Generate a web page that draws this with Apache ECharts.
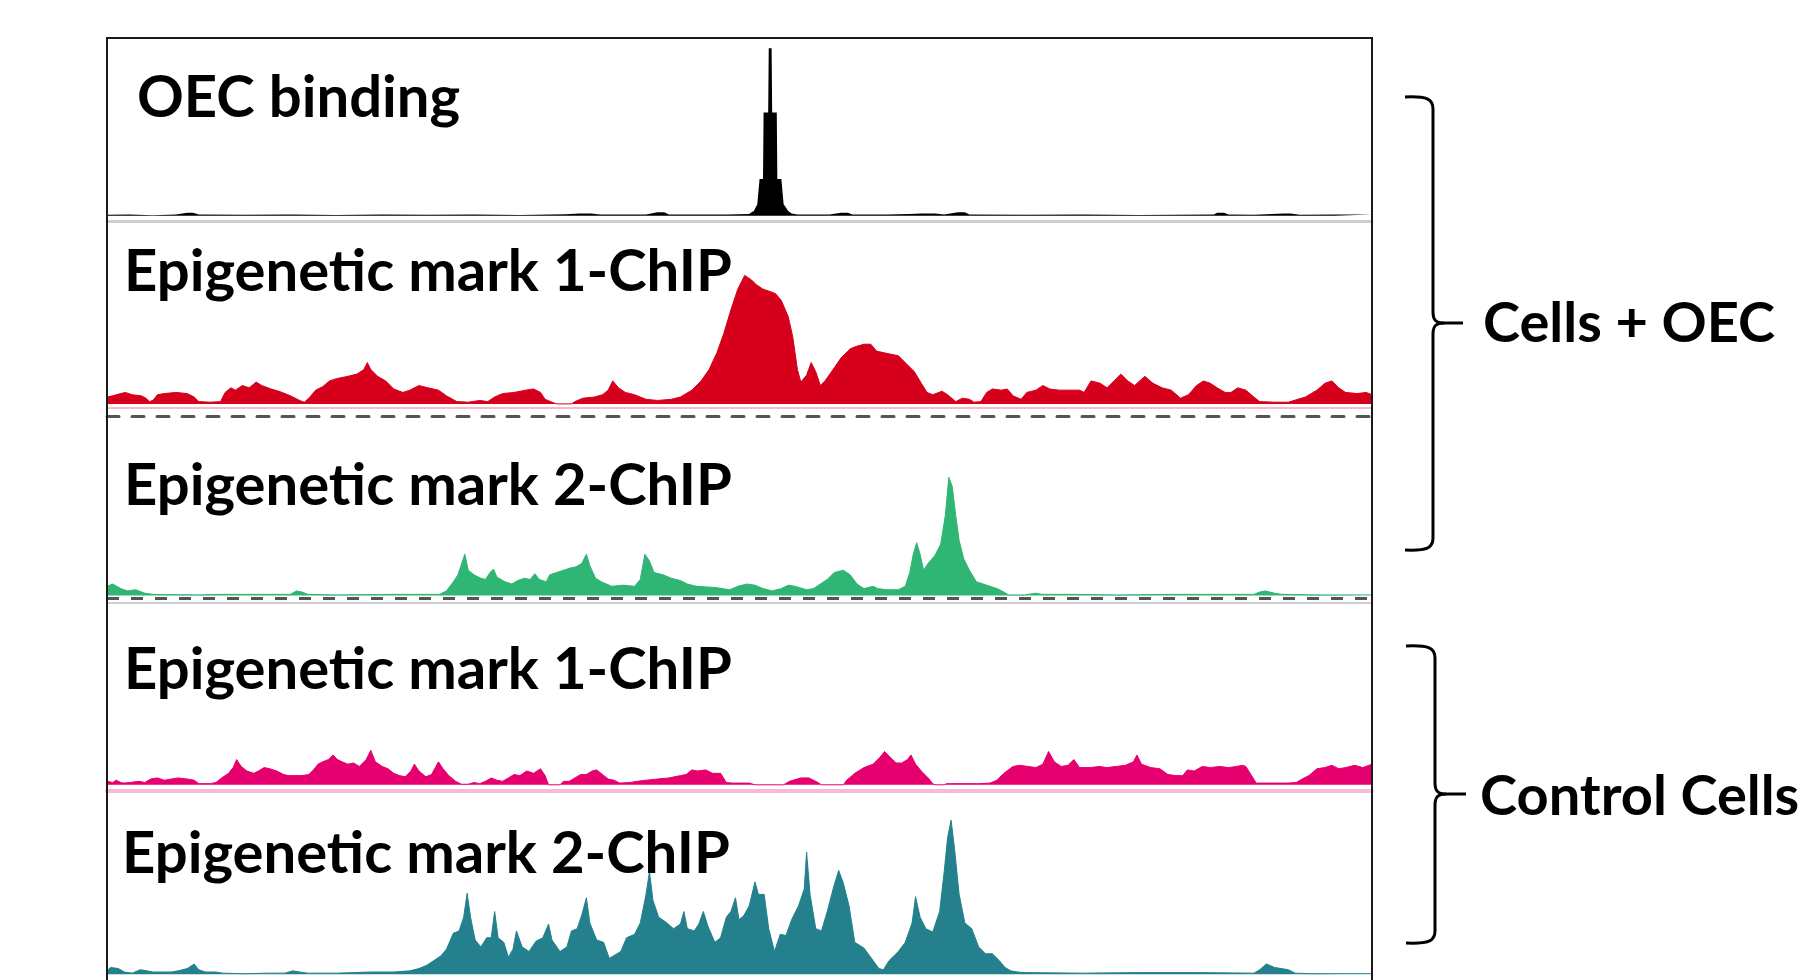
<!DOCTYPE html>
<html><head><meta charset="utf-8">
<script src="https://cdn.jsdelivr.net/npm/echarts@6/dist/echarts.min.js"></script>
<style>html,body{margin:0;padding:0;background:#fff}#c{width:1799px;height:980px}</style>
</head><body><div id="c"></div><script>
// ---- data (position along locus, signal) ----
const trackNames = ['OEC binding', 'Epigenetic mark 1-ChIP', 'Epigenetic mark 2-ChIP', 'Epigenetic mark 1-ChIP', 'Epigenetic mark 2-ChIP'];
const groupLabels = ['Cells + OEC', 'Control Cells'];
const locusRange = [0, 1103];

const oecSignal = [[0,0.8],[20,1],[40,0.5],[60,1],[70,2.5],[75,2.5],[80,1],[120,0.8],[160,1],[200,0.6],[240,1],[280,0.8],[320,1],[360,0.7],[400,1.2],[412,2],[422,2],[430,1],[470,1],[480,3],[486,3],[490,1],[540,1],[560,1.5],[562,3],[564,4],[567,10],[569,32],[572,32],[572.5,90],[576.5,90],[577,146],[579.5,146],[580,90],[584,90],[584.5,32],[588,32],[590,10],[594,4],[597,2],[602,1],[630,1],[640,2.5],[646,2.5],[650,1],[680,1],[700,1.5],[710,2],[722,2],[730,1],[742,3],[748,3],[752,1],[800,0.8],[850,1],[900,0.7],[965,1],[968,2.5],[974,2.5],[978,1],[1000,0.8],[1026,2],[1032,2],[1040,0.8],[1070,1],[1103,1]];

const mark1Oec = [[0,6],[5,7],[12,9],[16,10],[22,8],[30,7],[34,5],[37,2],[40,3],[44,8],[50,9],[60,10],[70,9],[76,6],[80,2],[90,1.5],[99,2],[103,10],[108,14],[112,12],[118,16],[124,14],[130,19],[135,16],[143,13],[150,11],[160,7],[168,3],[172,1.5],[176,5],[182,12],[188,15],[194,20],[200,22],[210,24],[218,26],[224,30],[227,36],[230,30],[236,24],[243,20],[250,13],[258,10],[264,12],[272,16],[280,14],[289,12],[296,7],[305,2],[315,1.5],[325,3],[332,2],[338,6],[345,9],[355,10],[365,12],[372,13],[378,10],[382,4],[388,1.5],[392,0],[405,0],[408,2],[415,5],[425,6],[432,8],[437,12],[441,20],[446,14],[452,10],[460,8],[470,4],[480,3],[492,4],[500,6],[510,12],[518,20],[525,30],[532,45],[538,62],[544,82],[550,100],[556,112],[562,108],[566,104],[572,100],[578,98],[583,96],[588,90],[594,76],[598,58],[602,30],[605,19],[610,25],[614,36],[618,28],[622,16],[626,20],[631,27],[640,40],[648,48],[653,50],[660,52],[666,52],[671,46],[680,44],[690,42],[697,35],[704,28],[710,18],[715,10],[720,8],[728,11],[733,8],[740,2],[746,5],[752,4],[756,1.5],[762,2],[767,10],[772,13],[780,12],[785,13],[790,7],[797,4],[802,10],[810,12],[816,16],[822,13],[830,12],[840,12],[848,12],[852,10],[858,20],[866,18],[872,14],[880,22],[884,26],[890,20],[896,16],[905,24],[912,18],[920,14],[928,12],[936,5],[943,8],[950,16],[956,20],[962,18],[968,14],[975,10],[980,10],[986,14],[993,12],[1000,6],[1005,2],[1018,1.5],[1030,1.5],[1035,3],[1045,6],[1055,12],[1062,18],[1068,20],[1074,14],[1080,10],[1090,9],[1098,10],[1103,8]];

const mark2Oec = [[0,8],[5,10],[12,6],[18,4],[25,5],[33,2],[40,1],[80,0.5],[100,1],[160,1],[165,4],[170,3],[175,1],[200,0.5],[250,1],[290,1],[296,4],[302,12],[306,18],[310,30],[312,36],[315,22],[320,18],[326,15],[330,14],[334,20],[337,23],[340,16],[347,12],[353,10],[358,13],[364,15],[369,14],[373,19],[377,14],[383,12],[386,18],[392,20],[398,22],[404,24],[409,25],[414,28],[418,36],[421,26],[426,15],[431,12],[440,8],[450,9],[460,8],[465,14],[469,36],[473,30],[477,20],[485,18],[492,15],[500,13],[506,10],[514,8],[530,7],[543,5],[550,8],[558,10],[565,9],[572,6],[580,4],[588,6],[594,9],[600,8],[610,5],[616,6],[622,10],[628,14],[634,20],[642,22],[648,18],[654,10],[660,6],[668,8],[672,6],[680,5],[690,5],[696,8],[700,20],[703,36],[706,46],[709,36],[712,22],[716,28],[722,35],[727,45],[731,70],[734,103],[737,95],[740,70],[743,48],[747,32],[752,22],[758,12],[764,10],[770,8],[776,6],[782,3],[786,0.5],[800,0.5],[810,2],[815,1],[840,1],[880,0.5],[930,1],[1000,1],[1005,3],[1010,4],[1014,3],[1018,2],[1024,1],[1060,0.5],[1103,0.5]];

const mark1Ctrl = [[0,3],[5,2],[8,4],[12,2],[15,1.5],[20,2],[28,3],[33,2],[38,5],[44,6],[50,4],[56,5],[62,6],[70,5],[76,4],[80,1],[90,1],[95,2],[100,6],[106,10],[110,15],[113,22],[117,16],[122,12],[128,10],[132,12],[137,15],[142,14],[148,12],[154,9],[158,8],[164,8],[170,8],[176,9],[180,13],[184,18],[188,20],[193,22],[197,26],[201,22],[205,20],[210,18],[215,19],[220,16],[226,22],[230,30],[234,20],[240,16],[245,14],[250,10],[255,8],[260,7],[265,12],[268,18],[272,12],[278,7],[283,9],[289,20],[293,14],[298,8],[304,3],[309,0.5],[315,0.5],[320,2],[325,1],[330,3],[335,6],[340,4],[345,3],[350,6],[355,9],[360,8],[366,12],[372,10],[378,14],[382,8],[385,0],[395,0],[398,3],[403,3],[408,6],[413,9],[418,9],[423,12],[427,13],[432,9],[437,5],[442,4],[447,1.5],[456,2],[462,3],[470,4],[480,5],[490,6],[500,8],[505,9],[510,13],[515,12],[522,13],[528,10],[535,10],[540,2],[545,1.5],[560,1.5],[565,0],[590,0],[595,3],[605,6],[612,6],[618,3],[623,0],[642,0],[645,4],[652,10],[660,15],[668,18],[674,24],[678,29],[683,24],[688,19],[693,19],[698,22],[701,26],[705,18],[710,12],[716,6],[720,1],[722,0],[730,0],[732,1],[760,1],[770,1.5],[776,4],[782,10],[790,16],[796,17],[803,16],[810,15],[816,18],[821,29],[826,20],[832,16],[838,17],[843,22],[848,15],[858,15],[865,16],[872,15],[880,16],[888,17],[895,20],[898,26],[902,18],[910,15],[918,14],[925,9],[932,8],[938,8],[942,13],[948,12],[955,16],[962,15],[970,16],[978,15],[985,16],[990,17],[993,16],[998,8],[1002,1.5],[1030,1.5],[1037,2],[1042,5],[1048,8],[1055,14],[1062,15],[1068,17],[1074,14],[1080,15],[1088,17],[1095,15],[1103,18]];

const mark2Ctrl = [[0,3],[3,6],[10,5],[15,2],[22,1],[29,4],[35,3],[40,2],[48,2],[56,2],[62,3],[70,5],[76,9],[80,4],[86,2],[95,2],[101,1],[120,0.5],[140,1],[155,1],[162,3],[168,2],[175,1],[200,1],[230,2],[250,2],[264,3],[272,5],[279,8],[285,12],[291,16],[296,22],[302,36],[307,38],[311,50],[314,71],[317,50],[321,30],[326,24],[331,32],[335,32],[338,55],[341,32],[346,28],[350,15],[354,22],[357,38],[362,24],[368,20],[374,29],[380,32],[385,44],[388,30],[395,20],[401,24],[405,38],[410,40],[414,52],[418,67],[421,45],[427,30],[433,28],[438,14],[443,17],[448,20],[453,32],[460,35],[465,45],[470,70],[473,90],[476,65],[481,50],[487,46],[494,40],[500,44],[503,55],[506,40],[512,38],[516,44],[520,55],[524,42],[530,28],[535,32],[540,50],[544,55],[548,67],[551,48],[555,51],[560,60],[565,81],[568,70],[573,70],[577,40],[582,20],[587,35],[592,34],[597,48],[603,60],[608,75],[610,107],[613,70],[618,40],[623,38],[628,55],[634,78],[638,91],[642,80],[647,60],[652,28],[660,23],[668,12],[673,5],[677,4],[682,12],[690,20],[696,28],[702,45],[705,68],[709,50],[714,40],[720,37],[726,55],[730,90],[733,120],[736,135],[739,110],[743,70],[748,45],[754,40],[760,24],[766,18],[772,18],[778,12],[783,6],[788,3],[794,2],[800,1.5],[850,1],[900,1.5],[950,1.5],[1000,1],[1005,4],[1011,9],[1018,6],[1024,5],[1030,4],[1036,1],[1050,0.5],[1103,0.5]];

// ---- layout / styles ----
const S = 980 / 854;
const plotLeft = 107, plotWidth = 1265;
const tracks = [
  { data: oecSignal, color: '#000000', lineW: 0, base: 215.7, ymax: 150, ymin: -4.6,
    axis: { show: true, color: '#cfcfcf', width: 3, type: 'solid' }, marks: [], label: [137, 98.5] },
  { data: mark1Oec, color: '#d7001c', lineW: 1, base: 403.9, ymax: 120, ymin: -11,
    axis: { show: true, color: '#555555', width: 3, type: [12, 13] },
    marks: [{ y: -3.2, color: '#f6bcc6', width: 2, type: 'solid' }], label: [124, 272] },
  { data: mark2Oec, color: '#2fb574', lineW: 1, base: 595.5, ymax: 108, ymin: -6.1,
    axis: { show: true, color: '#d0d0d0', width: 2, type: 'solid' },
    marks: [{ y: -2.4, color: '#555555', width: 3, type: [12, 12] }], label: [124, 486] },
  { data: mark1Ctrl, color: '#e6006f', lineW: 1, base: 784.8, ymax: 34, ymin: -5.4,
    axis: { show: true, color: '#f4bcd8', width: 4, type: 'solid' }, marks: [], label: [124, 670] },
  { data: mark2Ctrl, color: '#23808c', lineW: 1, base: 975.2, ymax: 140, ymin: -5,
    axis: { show: false, color: '#ccc', width: 1, type: 'solid' }, marks: [], label: [122, 854] }
];

const grid = [], xAxis = [], yAxis = [], series = [];
tracks.forEach((t, i) => {
  const top = t.base - t.ymax * S;
  grid.push({ left: plotLeft, width: plotWidth, top: top, height: (t.ymax - t.ymin) * S, containLabel: false });
  xAxis.push({ type: 'value', gridIndex: i, min: locusRange[0], max: locusRange[1],
    axisLine: { show: t.axis.show, onZero: false, lineStyle: { color: t.axis.color, width: t.axis.width, type: t.axis.type } },
    axisTick: { show: false }, axisLabel: { show: false }, splitLine: { show: false } });
  yAxis.push({ type: 'value', gridIndex: i, min: t.ymin, max: t.ymax, show: false, splitLine: { show: false } });
  series.push({
    type: 'line', xAxisIndex: i, yAxisIndex: i, data: t.data, symbol: 'none', silent: true,
    lineStyle: { color: t.color, width: t.lineW },
    areaStyle: { color: t.color, opacity: 1 },
    markLine: t.marks.length ? {
      silent: true, symbol: ['none', 'none'], label: { show: false },
      data: t.marks.map(m => ({ yAxis: m.y, lineStyle: { color: m.color, width: m.width, type: m.type } }))
    } : undefined,
    z: 2
  });
});

const FONT = 'bold 58px Lato';
const FONT_R = 'bold 56px Lato';
const graphic = [];
tracks.forEach((t, i) => {
  graphic.push({ type: 'text', z: 50, style: { text: trackNames[i], x: t.label[0], y: t.label[1], font: FONT, fill: '#000', align: 'left', verticalAlign: 'middle' } });
});
// frame
graphic.push({ type: 'rect', z: 60, shape: { x: 107, y: 38, width: 1265, height: 1000 }, style: { fill: 'none', stroke: '#1a1a1a', lineWidth: 2 } });

// braces
function brace(x0, xv, xt, yTop, yMid, yBot) {
  const st = { stroke: '#000', lineWidth: 3, fill: 'none' };
  return [
    { type: 'bezierCurve', shape: { x1: x0, y1: yTop, cpx1: xv - 6, cpy1: yTop - 1, cpx2: xv, cpy2: yTop + 2, x2: xv, y2: yTop + 12 }, style: st },
    { type: 'line', shape: { x1: xv, y1: yTop + 12, x2: xv, y2: yMid - 11 }, style: st },
    { type: 'bezierCurve', shape: { x1: xv, y1: yMid - 11, cpx1: xv, cpy1: yMid - 3, cpx2: xv + 3, cpy2: yMid, x2: xv + 11, y2: yMid }, style: st },
    { type: 'line', shape: { x1: xv + 11, y1: yMid, x2: xt, y2: yMid }, style: st },
    { type: 'bezierCurve', shape: { x1: xv + 11, y1: yMid, cpx1: xv + 3, cpy1: yMid, cpx2: xv, cpy2: yMid + 3, x2: xv, y2: yMid + 11 }, style: st },
    { type: 'line', shape: { x1: xv, y1: yMid + 11, x2: xv, y2: yBot - 12 }, style: st },
    { type: 'bezierCurve', shape: { x1: xv, y1: yBot - 12, cpx1: xv, cpy1: yBot - 2, cpx2: xv - 6, cpy2: yBot + 1, x2: x0, y2: yBot }, style: st }
  ];
}
graphic.push(...brace(1405, 1433, 1463, 97, 323, 550));
graphic.push(...brace(1406, 1435, 1466, 646, 794, 943));
graphic.push({ type: 'text', style: { text: groupLabels[0], x: 1483, y: 324, font: FONT_R, fill: '#000', align: 'left', verticalAlign: 'middle' } });
graphic.push({ type: 'text', style: { text: groupLabels[1], x: 1480, y: 797, font: FONT_R, fill: '#000', align: 'left', verticalAlign: 'middle' } });

const chart = echarts.init(document.getElementById('c'), null, { renderer: 'canvas' });
chart.setOption({ animation: false, backgroundColor: '#ffffff', grid, xAxis, yAxis, series, graphic });
</script></body></html>
